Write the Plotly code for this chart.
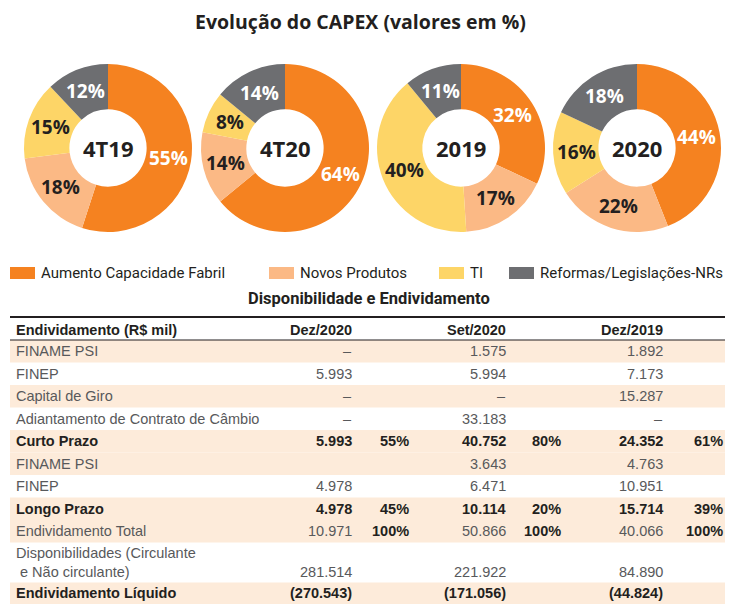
import math
import plotly.graph_objects as go

W, H = 733, 604

# ---------------- data ----------------
categories = ["Aumento Capacidade Fabril", "Novos Produtos", "TI", "Reformas/Legislações-NRs"]
colors = ["#F58220", "#FBB985", "#FDD567", "#6D6E71"]
text_colors = ["white", "#231F20", "#231F20", "white"]

periods = ["4T19", "4T20", "2019", "2020"]
v_4t19 = [55, 18, 15, 12]
v_4t20 = [64, 14, 8, 14]
v_2019 = [32, 17, 40, 11]
v_2020 = [44, 22, 16, 18]
values = [v_4t19, v_4t20, v_2019, v_2020]

title = "Evolução do CAPEX (valores em %)"
subtitle = "Disponibilidade e Endividamento"

header = ["Endividamento (R$ mil)", "Dez/2020", "", "Set/2020", "", "Dez/2019", ""]
row_labels = ["FINAME PSI", "FINEP", "Capital de Giro", "Adiantamento de Contrato de Câmbio",
              "Curto Prazo", "FINAME PSI", "FINEP", "Longo Prazo", "Endividamento Total",
              "Disponibilidades (Circulante<br> e Não circulante)", "Endividamento Líquido"]
dez2020 = ["–", "5.993", "–", "–", "5.993", "", "4.978", "4.978", "10.971", "281.514", "(270.543)"]
pct_dez2020 = ["", "", "", "", "55%", "", "", "45%", "100%", "", ""]
set2020 = ["1.575", "5.994", "–", "33.183", "40.752", "3.643", "6.471", "10.114", "50.866", "221.922", "(171.056)"]
pct_set2020 = ["", "", "", "", "80%", "", "", "20%", "100%", "", ""]
dez2019 = ["1.892", "7.173", "15.287", "–", "24.352", "4.763", "10.951", "15.714", "40.066", "84.890", "(44.824)"]
pct_dez2019 = ["", "", "", "", "61%", "", "", "39%", "100%", "", ""]
bold_rows = [4, 7, 10]
shaded_rows = [0, 2, 4, 5, 7, 8, 10]

# ---------------- helpers (page pixels -> paper; page body has an 8px margin) ----------------
OX, OY = 8, 8

def px(x):
    return (x - OX) / W

def py(y):
    return 1 - (y - OY) / H

def ann(x, y, text, size, color, family, xanchor="center", yanchor="middle", align="center"):
    return dict(x=px(x), y=py(y), xref="paper", yref="paper", text=text, showarrow=False,
                xanchor=xanchor, yanchor=yanchor, align=align,
                font=dict(family=family, size=size, color=color))

DARK = "#231F20"
GRAY = "#58595B"
SHADE = "#FDEBDA"
DONUT_FONT = "Open Sans"
TABLE_FONT = "Liberation Sans"

fig = go.Figure()
annotations = []
shapes = []

# ---------------- donuts ----------------
centers_x = [108, 285, 461, 637]
cy, r, r_lab = 148, 84, 61
for name, vals, cx in zip(periods, values, centers_x):
    fig.add_trace(go.Pie(
        labels=categories, values=vals, name=name,
        hole=0.46, sort=False, direction="clockwise", rotation=0,
        marker=dict(colors=colors, line=dict(width=0)),
        textinfo="none",
        domain=dict(x=[px(cx - r), px(cx + r)], y=[py(cy + r), py(cy - r)]),
        showlegend=False, hoverinfo="label+percent",
    ))
    total = sum(vals)
    cum = 0
    for v, tc in zip(vals, text_colors):
        mid = (cum + v / 2) / total * 2 * math.pi
        cum += v
        annotations.append(ann(cx + r_lab * math.sin(mid), cy - r_lab * math.cos(mid),
                               f"<b>{v}%</b>", 19, tc, DONUT_FONT))
    annotations.append(ann(cx, cy, f"<b>{name}</b>", 22, DARK, DONUT_FONT))

# title
annotations.append(ann(360, 21, f"<b>{title}</b>", 19.5, DARK, DONUT_FONT))

# ---------------- legend ----------------
leg_x = [10, 269, 439, 509]
leg_y = 273
for cat, col, lx in zip(categories, colors, leg_x):
    shapes.append(dict(type="rect", xref="paper", yref="paper",
                       x0=px(lx), x1=px(lx + 25), y0=py(leg_y + 6), y1=py(leg_y - 6),
                       fillcolor=col, line=dict(width=0)))
    annotations.append(ann(lx + 29, leg_y, cat, 15, DARK, "Roboto", xanchor="left"))

annotations.append(ann(369, 298, f"<b>{subtitle}</b>", 16.5, DARK, "Roboto"))

# ---------------- table ----------------
tx0, tx1 = 10, 731
top_line, head_bottom = 317, 340
row_h = [22.5] * 9 + [40, 21.5]
col_right = [None, 354, 411, 508, 563, 665, 725]
columns = [row_labels, dez2020, pct_dez2020, set2020, pct_set2020, dez2019, pct_dez2019]

shapes.append(dict(type="line", xref="paper", yref="paper", x0=px(tx0), x1=px(tx1),
                   y0=py(top_line), y1=py(top_line), line=dict(color=DARK, width=2)))
shapes.append(dict(type="line", xref="paper", yref="paper", x0=px(tx0), x1=px(tx1),
                   y0=py(head_bottom), y1=py(head_bottom), line=dict(color=DARK, width=1.2)))

hy = (top_line + head_bottom) / 2 + 1
for ci, h in enumerate(header):
    if not h:
        continue
    if ci == 0:
        annotations.append(ann(14, hy, f"<b>{h}</b>", 14.5, DARK, TABLE_FONT, xanchor="left"))
    else:
        annotations.append(ann(col_right[ci], hy, f"<b>{h}</b>", 14.5, DARK, TABLE_FONT, xanchor="right"))

y = head_bottom
for ri, h in enumerate(row_h):
    y0, y1 = y, y + h
    y = y1
    if ri in shaded_rows:
        shapes.append(dict(type="rect", xref="paper", yref="paper", layer="below",
                           x0=px(tx0), x1=px(tx1), y0=py(y1), y1=py(y0),
                           fillcolor=SHADE, line=dict(width=0)))
    ymid = (y0 + y1) / 2
    yval = ymid if "<br>" not in row_labels[ri] else y1 - 11
    for ci, col in enumerate(columns):
        txt = col[ri]
        if not txt:
            continue
        is_pct = ci in (2, 4, 6)
        bold = ri in bold_rows or is_pct
        color = DARK if bold else GRAY
        t = f"<b>{txt}</b>" if bold else txt
        if ci == 0:
            annotations.append(ann(14, ymid, t, 14.5, color, TABLE_FONT, xanchor="left", align="left"))
        else:
            annotations.append(ann(col_right[ci], yval, t, 14.5, color, TABLE_FONT, xanchor="right", align="right"))

fig.update_layout(
    width=W, height=H, margin=dict(l=0, r=0, t=0, b=0),
    paper_bgcolor="white", plot_bgcolor="white",
    shapes=shapes, annotations=annotations, showlegend=False,
)

fig.write_html("out.html")
